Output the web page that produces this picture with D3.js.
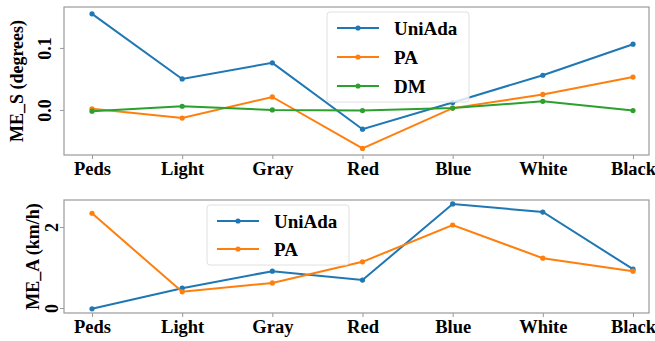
<!DOCTYPE html>
<html><head><meta charset="utf-8">
<script src="https://cdn.jsdelivr.net/npm/d3@7"></script>
<style>body{margin:0;background:#fff}svg{display:block}</style>
</head><body>
<script>
const categories = ["Peds","Light","Gray","Red","Blue","White","Black"];
const msUniAda = [0.155, 0.050, 0.076, -0.031, 0.012, 0.056, 0.106];
const msPA     = [0.002, -0.013, 0.021, -0.062, 0.003, 0.025, 0.053];
const msDM     = [-0.002, 0.006, 0.000, -0.001, 0.003, 0.014, -0.001];
const maUniAda = [-0.02, 0.49, 0.91, 0.69, 2.57, 2.37, 0.96];
const maPA     = [2.34, 0.40, 0.62, 1.14, 2.05, 1.23, 0.91];
const topTicks = [0.0, 0.1];
const botTicks = [0, 2];

const FONT = "Liberation Serif";
const W = 655, H = 341;
const svg = d3.select("body").append("svg").attr("width", W).attr("height", H);
const colors = {UniAda:"#1f77b4", PA:"#ff7f0e", DM:"#2ca02c"};
const left = 64, right = 649;
const x = d3.scalePoint().domain(categories).range([92, 633]);

function styleText(sel, size) {
  sel.style("font-family", FONT).style("font-weight", "bold").style("font-size", size + "px").attr("fill", "#000");
}

function panel(top, bottom, domain, ticks, fmt, series, ylabel, ylabelX, tickX, legend) {
  const y = d3.scaleLinear().domain(domain).range([bottom, top]);
  const g = svg.append("g");
  g.append("rect").attr("x", left).attr("y", top).attr("width", right-left).attr("height", bottom-top)
    .attr("fill", "none").attr("stroke", "#9a9a9a").attr("stroke-width", 1.2);
  const xa = g.append("g").attr("transform", `translate(0,${bottom})`)
    .call(d3.axisBottom(x).tickSize(4).tickPadding(3));
  xa.select(".domain").remove();
  xa.selectAll("line").attr("stroke", "#9a9a9a");
  styleText(xa.selectAll("text"), 18.5);
  const ya = g.append("g").attr("transform", `translate(${left},0)`)
    .call(d3.axisLeft(y).tickValues(ticks).tickFormat(fmt).tickSize(4));
  ya.select(".domain").remove();
  ya.selectAll("line").attr("stroke", "#9a9a9a");
  ya.selectAll("text").attr("x", 0).attr("dy", 0)
    .attr("transform", `translate(${tickX - left},0) rotate(-90)`)
    .attr("text-anchor", "middle").attr("dominant-baseline", "central");
  styleText(ya.selectAll("text"), 18);
  const yl = g.append("text").attr("transform", `translate(${ylabelX},${(top+bottom)/2}) rotate(-90)`)
    .attr("text-anchor", "middle").attr("dominant-baseline", "central").text(ylabel);
  styleText(yl, 18);
  const line = d3.line().x((d,i) => x(categories[i])).y(d => y(d));
  series.forEach(s => {
    g.append("path").datum(s.values).attr("d", line).attr("fill", "none")
      .attr("stroke", colors[s.name]).attr("stroke-width", 2);
    g.selectAll(null).data(s.values).enter().append("circle")
      .attr("cx", (d,i) => x(categories[i])).attr("cy", d => y(d)).attr("r", 2.6)
      .attr("fill", colors[s.name]);
  });
  const lg = g.append("g");
  lg.append("rect").attr("x", legend.x).attr("y", legend.y).attr("width", legend.w).attr("height", legend.h)
    .attr("rx", 3).attr("fill", "#fff").attr("fill-opacity", 0.8).attr("stroke", "#e0e0e0");
  series.forEach((s, i) => {
    const yy = legend.y0 + i*legend.dy;
    lg.append("line").attr("x1", legend.lx).attr("x2", legend.lx + 42).attr("y1", yy).attr("y2", yy)
      .attr("stroke", colors[s.name]).attr("stroke-width", 2);
    lg.append("circle").attr("cx", legend.lx + 21).attr("cy", yy).attr("r", 2.6).attr("fill", colors[s.name]);
    const t = lg.append("text").attr("x", legend.lx + 57).attr("y", yy).attr("dominant-baseline", "central").text(s.name);
    styleText(t, 19);
  });
}

panel(7, 155, [-0.0726, 0.166], topTicks, d3.format(".1f"),
  [{name:"UniAda", values: msUniAda}, {name:"PA", values: msPA}, {name:"DM", values: msDM}],
  "ME_S (degrees)", 17, 45,
  {x: 327, y: 12, w: 142, h: 90, lx: 337, y0: 28, dy: 29});

panel(200, 313, [-0.123, 2.667], botTicks, d3.format("d"),
  [{name:"UniAda", values: maUniAda}, {name:"PA", values: maPA}],
  "ME_A (km/h)", 33, 52,
  {x: 207, y: 205, w: 142, h: 60, lx: 217, y0: 221, dy: 28});
</script>
</body></html>
